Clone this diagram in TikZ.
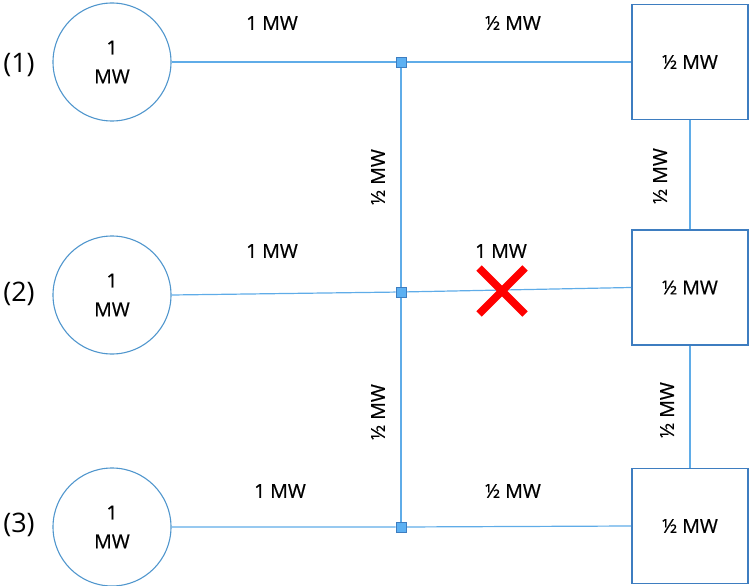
\documentclass[tikz,border=0pt]{standalone}
\usepackage{fontspec}
\setmainfont{Open Sans}
\newfontfamily\labelfont[FakeBold=0.6]{Open Sans}
\usetikzlibrary{calc,positioning}

\definecolor{wire}{RGB}{95,172,232}
\definecolor{ring}{RGB}{80,150,205}
\definecolor{frame}{RGB}{62,125,192}
\definecolor{joint}{RGB}{92,176,242}

\tikzset{
  gen/.style={circle,draw=ring,line width=1.1bp,minimum size=118bp,inner sep=0pt,
    align=center,font=\labelfont\fontsize{19.5}{29}\selectfont},
  load/.style={rectangle,draw=frame,line width=1.8bp,minimum width=116bp,minimum height=115bp,
    inner sep=0pt,font=\labelfont\fontsize{19.5}{24}\selectfont},
  joint/.style={rectangle,draw=frame,fill=joint,line width=0.9bp,minimum size=10bp,inner sep=0pt},
  wire/.style={draw=wire,line width=1.2bp},
  flow/.style={font=\labelfont\fontsize{19.5}{24}\selectfont,inner sep=0pt},
  tag/.style={font=\fontsize{27}{30}\selectfont,inner sep=0pt}
}

\begin{document}
\begin{tikzpicture}[x=1bp,y=-1bp]

\useasboundingbox (0,0) rectangle (750,586);

% Generators
\node[gen] (g1) at (112,62)  {1\\MW};
\node[gen] (g2) at (112,295) {1\\MW};
\node[gen] (g3) at (112,527) {1\\MW};

% Loads
\node[load] (l1) at (690,62)    {½ MW};
\node[load] (l2) at (690,287.5) {½ MW};
\node[load] (l3) at (690,526)   {½ MW};

% Bus joints
\node[joint] (j1) at (401,62)  {};
\node[joint] (j2) at (401,292) {};
\node[joint] (j3) at (401,527) {};

% Lines
\draw[wire] (g1.east) -- (j1) -- (l1.west);
\draw[wire] (g2.east) -- (j2) -- (l2.west);
\draw[wire] (g3.east) -- (j3) -- (l3.west);
\draw[wire] (j1) -- (j2) -- (j3);
\draw[wire] (l1) -- (l2) -- (l3);
\node[joint] at (j1) {};
\node[joint] at (j2) {};
\node[joint] at (j3) {};

% Row labels
\node[tag] (r1) at (19,65)  {(1)};
\node[tag] (r2) at (19,294) {(2)};
\node[tag] (r3) at (19,525) {(3)};

% Flow labels
\node[flow] (f1) at (272,23)  {1 MW};
\node[flow] (f2) at (513,23)  {½ MW};
\node[flow] (f3) at (272,251) {1 MW};
\node[flow] (f4) at (501,251) {1 MW};
\node[flow] (f5) at (280,491) {1 MW};
\node[flow] (f6) at (513,491) {½ MW};
\node[flow,rotate=90] (f7) at (378,177) {½ MW};
\node[flow,rotate=90] (f8) at (378,412) {½ MW};
\node[flow,rotate=90] (f9) at (660,176) {½ MW};
\node[flow,rotate=90] (f10) at (667,410) {½ MW};

% Broken line
\coordinate (cut) at (502,291);
\draw[red,line width=7.5bp] ($(cut)+(-23,-23)$) -- ($(cut)+(23,23)$)
  ($(cut)+(23,-23)$) -- ($(cut)+(-23,23)$);

\end{tikzpicture}
\end{document}
